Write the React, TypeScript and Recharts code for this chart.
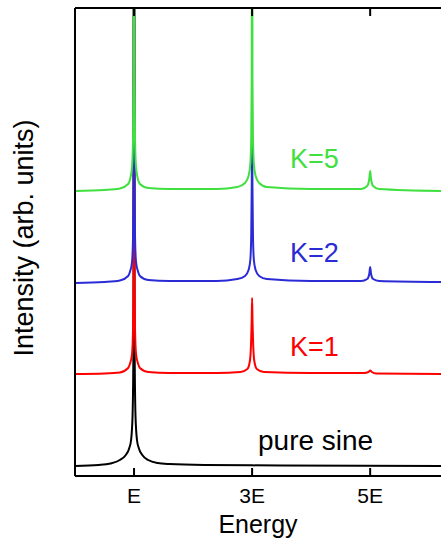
import React from "react";
import { LineChart, Line, XAxis, YAxis, ReferenceDot } from "recharts";

const font = "'Liberation Sans', Arial, Helvetica, sans-serif";

// energy in units of E, intensity in arb. units (peaks beyond 468 run off the top)
const pureSine = [
  { e: 0, i: 10 }, { e: 0.4, i: 11 }, { e: 0.6, i: 12.5 }, { e: 0.76, i: 16 }, { e: 0.86, i: 21 },
  { e: 0.92, i: 28 }, { e: 0.95, i: 36 }, { e: 0.975, i: 60 }, { e: 0.99, i: 130 }, { e: 1, i: 800 },
  { e: 1.01, i: 130 }, { e: 1.025, i: 60 }, { e: 1.05, i: 36 }, { e: 1.08, i: 28 }, { e: 1.14, i: 21 },
  { e: 1.24, i: 16 }, { e: 1.4, i: 13 }, { e: 1.6, i: 12 }, { e: 2.2, i: 11 }, { e: 3.5, i: 10.5 },
  { e: 6.2, i: 10 },
];

const k1 = [
  { e: 0, i: 102 }, { e: 0.5, i: 102.5 }, { e: 0.76, i: 103.5 }, { e: 0.9, i: 108 }, { e: 0.93, i: 112 },
  { e: 0.966, i: 122 }, { e: 0.983, i: 147 }, { e: 0.992, i: 212 }, { e: 1, i: 800 }, { e: 1.008, i: 212 },
  { e: 1.017, i: 147 }, { e: 1.034, i: 122 }, { e: 1.07, i: 112 }, { e: 1.1, i: 108 }, { e: 1.24, i: 104 },
  { e: 1.6, i: 103 }, { e: 2.4, i: 103 }, { e: 2.8, i: 104 }, { e: 2.92, i: 107 }, { e: 2.965, i: 116 },
  { e: 2.983, i: 134 }, { e: 2.993, i: 155 }, { e: 3, i: 178 }, { e: 3.007, i: 155 }, { e: 3.017, i: 134 },
  { e: 3.035, i: 116 }, { e: 3.08, i: 107 }, { e: 3.2, i: 104 }, { e: 4, i: 103 }, { e: 4.9, i: 103 },
  { e: 4.97, i: 104 }, { e: 5, i: 105.5 }, { e: 5.03, i: 104 }, { e: 5.1, i: 102.5 }, { e: 6.2, i: 102 },
];

const k2 = [
  { e: 0, i: 193 }, { e: 0.5, i: 194 }, { e: 0.76, i: 195.5 }, { e: 0.9, i: 200 }, { e: 0.93, i: 204 },
  { e: 0.966, i: 214 }, { e: 0.983, i: 239 }, { e: 0.992, i: 304 }, { e: 1, i: 800 }, { e: 1.008, i: 304 },
  { e: 1.017, i: 239 }, { e: 1.034, i: 214 }, { e: 1.07, i: 204 }, { e: 1.1, i: 200 }, { e: 1.24, i: 196 },
  { e: 1.6, i: 195 }, { e: 2.4, i: 195 }, { e: 2.75, i: 197 }, { e: 2.88, i: 200 }, { e: 2.94, i: 206 },
  { e: 2.97, i: 216 }, { e: 2.985, i: 240 }, { e: 2.994, i: 290 }, { e: 3, i: 352 }, { e: 3.006, i: 290 },
  { e: 3.015, i: 240 }, { e: 3.03, i: 216 }, { e: 3.06, i: 206 }, { e: 3.12, i: 200 }, { e: 3.25, i: 197 },
  { e: 4, i: 195 }, { e: 4.85, i: 195 }, { e: 4.95, i: 197 }, { e: 4.985, i: 202 }, { e: 5, i: 209 },
  { e: 5.015, i: 202 }, { e: 5.05, i: 197 }, { e: 5.15, i: 195 }, { e: 6.2, i: 194 },
];

const k5 = [
  { e: 0, i: 285 }, { e: 0.5, i: 286 }, { e: 0.76, i: 287.5 }, { e: 0.9, i: 292 }, { e: 0.93, i: 296 },
  { e: 0.966, i: 309 }, { e: 0.983, i: 336 }, { e: 0.992, i: 400 }, { e: 1, i: 900 }, { e: 1.008, i: 400 },
  { e: 1.017, i: 336 }, { e: 1.034, i: 309 }, { e: 1.07, i: 296 }, { e: 1.1, i: 292 }, { e: 1.24, i: 288 },
  { e: 1.6, i: 287 }, { e: 2.4, i: 287 }, { e: 2.75, i: 289 }, { e: 2.88, i: 293 }, { e: 2.94, i: 300 },
  { e: 2.97, i: 312 }, { e: 2.985, i: 338 }, { e: 2.994, i: 400 }, { e: 3, i: 900 }, { e: 3.006, i: 400 },
  { e: 3.015, i: 338 }, { e: 3.03, i: 312 }, { e: 3.06, i: 300 }, { e: 3.12, i: 293 }, { e: 3.25, i: 289 },
  { e: 4, i: 287 }, { e: 4.85, i: 287 }, { e: 4.95, i: 290 }, { e: 4.985, i: 297 }, { e: 5, i: 305 },
  { e: 5.015, i: 297 }, { e: 5.05, i: 290 }, { e: 5.15, i: 287 }, { e: 6.2, i: 285 },
];

const tickValues = [1, 3, 5];
const tickLabels = ["E", "3E", "5E"];

const annotations = [
  { text: "pure sine", e: 3.1, i: 26, color: "#000000", size: 28 },
  { text: "K=1", e: 3.64, i: 120, color: "#ff0000", size: 27 },
  { text: "K=2", e: 3.64, i: 214, color: "#2b2bd6", size: 27 },
  { text: "K=5", e: 3.64, i: 308, color: "#40e040", size: 27 },
];

const series = [
  { key: "pure", data: pureSine, color: "#000000" },
  { key: "k1", data: k1, color: "#ff0000" },
  { key: "k2", data: k2, color: "#2b2bd6" },
  { key: "k5", data: k5, color: "#40e040" },
];

export default function App() {
  return (
    <div style={{ position: "absolute", left: 0, top: 0, width: 441, height: 540, background: "#fff" }}>
      <LineChart width={441} height={540} margin={{ top: 0, right: 0, bottom: 0, left: 0 }}>
        <XAxis
          dataKey="e"
          type="number"
          domain={[0, 6.2]}
          ticks={tickValues}
          tickFormatter={(v) => tickLabels[tickValues.indexOf(v)] ?? ""}
          tickSize={-8}
          tickMargin={20}
          height={64}
          stroke="#000"
          strokeWidth={2}
          allowDataOverflow
          tick={{ fill: "#000", fontSize: 21, fontFamily: font }}
          label={{
            value: "Energy",
            content: () => (
              <text x={258} y={533} textAnchor="middle" fontSize={25} fontFamily={font} fill="#000">
                Energy
              </text>
            ),
          }}
        />
        <XAxis
          xAxisId="top"
          orientation="top"
          dataKey="e"
          type="number"
          domain={[0, 6.2]}
          ticks={tickValues}
          tickFormatter={() => ""}
          tickSize={-8}
          height={8}
          stroke="#000"
          strokeWidth={2}
          allowDataOverflow
        />
        <YAxis
          type="number"
          domain={[0, 468]}
          allowDataOverflow
          width={75}
          tick={false}
          tickLine={false}
          stroke="#000"
          strokeWidth={2}
          label={{
            value: "Intensity (arb. units)",
            content: () => (
              <text
                x={33}
                y={238}
                textAnchor="middle"
                fontSize={27}
                fontFamily={font}
                fill="#000"
                transform="rotate(-90, 33, 238)"
              >
                Intensity (arb. units)
              </text>
            ),
          }}
        />
        {series.map((s) => (
          <Line
            key={s.key}
            data={s.data}
            dataKey="i"
            type="monotone"
            stroke={s.color}
            strokeWidth={2}
            dot={false}
            activeDot={false}
            isAnimationActive={false}
          />
        ))}
        {annotations.map((a) => (
          <ReferenceDot
            key={a.text}
            x={a.e}
            y={a.i}
            r={0}
            fill="none"
            stroke="none"
            label={{
              value: a.text,
              content: (props: any) => (
                <text
                  x={props.viewBox.x}
                  y={props.viewBox.y}
                  fontSize={a.size}
                  fontFamily={font}
                  fill={a.color}
                >
                  {a.text}
                </text>
              ),
            }}
          />
        ))}
      </LineChart>
    </div>
  );
}
